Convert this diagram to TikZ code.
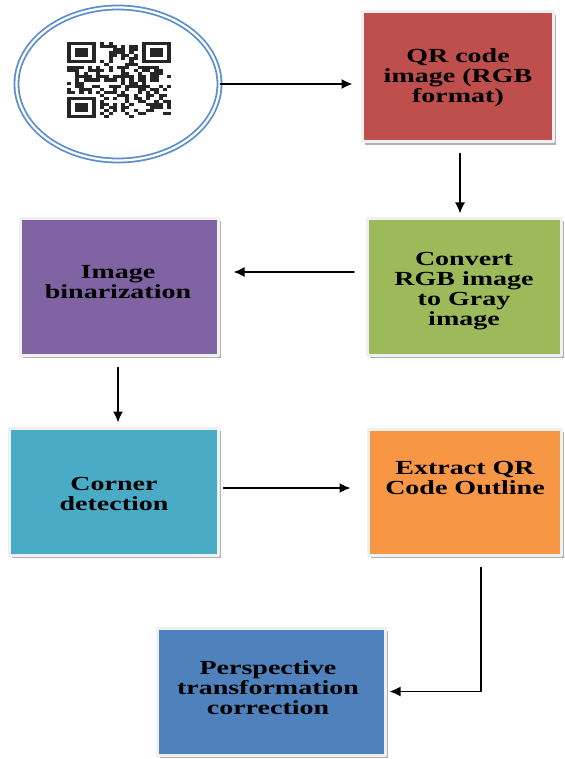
\documentclass[tikz,border=0pt]{standalone}
\usepackage{fontspec}
\setmainfont{Liberation Serif}[FakeStretch=1.4]
\usepackage{tikz}
\usetikzlibrary{arrows.meta,shadows,shapes.geometric}
\definecolor{qrred}{rgb}{0.75,0.31,0.30}
\definecolor{grayconv}{rgb}{0.61,0.73,0.35}
\definecolor{binpurple}{rgb}{0.50,0.39,0.64}
\definecolor{cornercyan}{rgb}{0.29,0.67,0.78}
\definecolor{outlineorange}{rgb}{0.97,0.59,0.27}
\definecolor{perspblue}{rgb}{0.31,0.51,0.74}
\definecolor{ringblue}{rgb}{0.36,0.56,0.80}

\begin{document}
\begin{tikzpicture}[line cap=round,line join=round,>={Latex[length=5.5pt,width=5pt]},x=0.5pt,y=0.5pt,
  box/.style={rectangle,inner sep=0pt,draw=gray!12,line width=1.5pt,
    drop shadow={shadow xshift=1.4pt,shadow yshift=-1.4pt,fill=gray!60,opacity=1}},
  txt/.style={font=\bfseries\fontsize{10}{10}\selectfont,align=center,text=black},
  conn/.style={->,line width=0.8pt,color=black}]
\useasboundingbox (0,0) rectangle (564,-759);

% QR code in its double ring
\node[ellipse,minimum width=101.5pt,minimum height=76.5pt,draw=ringblue,line width=0.9pt,
  double=white,double distance=1.1pt] (qrcirc) at (118,-84) {};
\begin{scope}[shift={(67,-42)}]
\pgfmathsetseed{12}
\foreach \i in {0,...,24}
\foreach \j in {0,...,24}{
  \pgfmathrandominteger{\r}{0}{1}
  \pgfmathtruncatemacro\flag{((\i<8 && \j<8) || (\i>16 && \j<8) || (\i<8 && \j>16)) ? 0 : \r}
  \ifnum\flag=1 \fill[black!85] (\i*4.16,-\j*3.04) rectangle ++(4.16,-3.04); \fi
}
\foreach \px/\py in {0/0,18/0,0/18}{
  \fill[black!85] (\px*4.16,-\py*3.04) rectangle ++(7*4.16,-7*3.04);
  \fill[white] (\px*4.16+4.16,-\py*3.04-3.04) rectangle ++(5*4.16,-5*3.04);
  \fill[black!85] (\px*4.16+2*4.16,-\py*3.04-2*3.04) rectangle ++(3*4.16,-3*3.04);
}
\end{scope}

% boxes
\node[box,fill=qrred,minimum width=95.5pt,minimum height=65pt] (qr) at (457.5,-77) {};
\node[box,fill=grayconv,minimum width=97pt,minimum height=68.5pt] (green) at (464.5,-286.5) {};
\node[box,fill=binpurple,minimum width=99pt,minimum height=68.5pt] (purple) at (119,-286.5) {};
\node[box,fill=cornercyan,minimum width=104.5pt,minimum height=63.5pt] (cyan) at (113.5,-491.5) {};
\node[box,fill=outlineorange,minimum width=96.5pt,minimum height=63pt] (orange) at (464.5,-492) {};
\node[box,fill=perspblue,minimum width=114pt,minimum height=63.5pt] (blue) at (271,-691.5) {};

% texts
\node[txt] (qrtxt) at (458,-78) {QR code\\image (RGB\\format)};
\node[txt] (greentxt) at (464,-291) {Convert\\RGB image\\to Gray\\image};
\node[txt] (purpletxt) at (118,-282) {Image\\binarization};
\node[txt] (cyantxt) at (114,-494) {Corner\\detection};
\node[txt] (orangetxt) at (465,-478) {Extract QR\\Code Outline};
\node[txt] (bluetxt) at (268,-688) {Perspective\\transformation\\correction};

% connectors
\draw[conn,shorten >=4pt] (qrcirc) -- (qrcirc -| qr.west);
\draw[conn,shorten <=5pt,shorten >=1.5pt] ([xshift=1.25pt]qr.south) -- ([xshift=1.25pt]qr.south |- green.north);
\draw[conn,shorten <=6pt,shorten >=7pt] ([yshift=7.25pt]green.west) -- ([yshift=7.25pt]green.west -| purple.east);
\draw[conn,shorten <=5.5pt,shorten >=2pt] ([xshift=-0.5pt]purple.south) -- ([xshift=-0.5pt]purple.south |- cyan.north);
\draw[conn,shorten <=2pt,shorten >=8pt] ([yshift=1.75pt]cyan.east) -- ([yshift=1.75pt]cyan.east -| orange.west);
\draw[conn,shorten <=5.5pt,shorten >=1.5pt] ([xshift=8.25pt]orange.south) |- (blue.east);
\end{tikzpicture}
\end{document}
